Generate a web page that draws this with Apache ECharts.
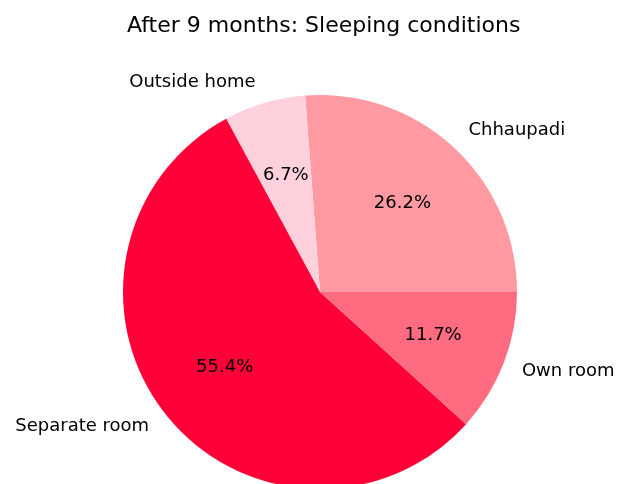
<!DOCTYPE html>
<html>
<head>
<meta charset="utf-8">
<script src="https://cdn.jsdelivr.net/npm/echarts@6/dist/echarts.min.js"></script>
<style>
  html, body { margin: 0; padding: 0; background: #fff; }
  #chart { width: 621px; height: 484px; }
</style>
</head>
<body>
<div id="chart"></div>
<script>
// data
const categories = ['Chhaupadi', 'Outside home', 'Separate room', 'Own room'];
const shares = [26.2, 6.7, 55.4, 11.7];
const colors = ['#ff9aa2', '#ffd1dc', '#ff0038', '#ff6b81'];

const myChart = echarts.init(document.getElementById('chart'));
const R = 197;
const font = 'DejaVu Sans';

// nudge name labels a bit further up / down, like matplotlib places them
const total = shares.reduce((a, b) => a + b, 0);
let acc = 0;
const pieData = categories.map((name, i) => {
  const mid = (acc + shares[i] / 2) / total * 2 * Math.PI;
  acc += shares[i];
  return {
    name: name,
    value: shares[i],
    itemStyle: { color: colors[i] },
    label: { offset: [0, Math.sin(mid) > 0 ? -7 : 4] }
  };
});

const option = {
  animation: false,
  title: {
    text: 'After 9 months: Sleeping conditions',
    left: 122,
    top: 10,
    textStyle: { fontFamily: font, fontSize: 22, fontWeight: 'normal', color: '#000' }
  },
  series: [
    {
      // slices with names outside
      type: 'pie',
      center: [320, 292],
      radius: [0, R],
      startAngle: 0,
      clockwise: false,
      avoidLabelOverlap: false,
      silent: true,
      data: pieData,
      label: {
        show: true,
        position: 'outside',
        fontFamily: font,
        fontSize: 18,
        color: '#000',
        formatter: '{b}'
      },
      labelLine: { show: false, length: 14, length2: 0 }
    },
    {
      // transparent ring only for the percent labels at 0.6 R
      type: 'pie',
      center: [320, 292],
      radius: [0.2 * R, R],
      startAngle: 0,
      clockwise: false,
      avoidLabelOverlap: false,
      silent: true,
      percentPrecision: 1,
      data: categories.map((name, i) => ({ name: name, value: shares[i] })),
      itemStyle: { color: 'rgba(0,0,0,0)' },
      label: {
        show: true,
        position: 'inside',
        fontFamily: font,
        fontSize: 18,
        color: '#000',
        formatter: '{d}%'
      },
      labelLine: { show: false }
    }
  ]
};
myChart.setOption(option);
</script>
</body>
</html>
